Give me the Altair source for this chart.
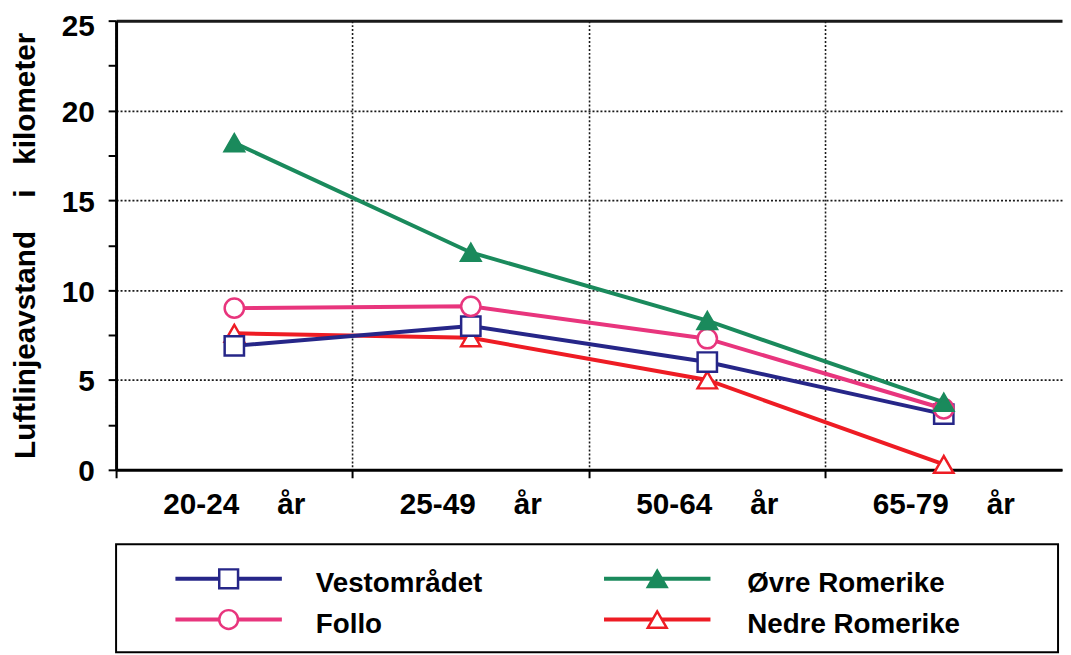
import altair as alt
import pandas as pd

FONT = "Liberation Sans"

ages = ["20-24", "25-49", "50-64", "65-79"]
age_unit = "år"
series = ["Vestområdet", "Follo", "Øvre Romerike", "Nedre Romerike"]
vest = [6.9, 8.0, 6.0, 3.1]
follo = [9.0, 9.1, 7.3, 3.4]
ovre = [18.2, 12.1, 8.3, 3.75]
nedre = [7.6, 7.35, 5.0, 0.3]
colors = ["#262688", "#e8357d", "#1a8a5c", "#ee1c24"]
shapes = ["square", "circle", "triangle-up", "triangle-up"]
fills = ["white", "white", "#1a8a5c", "white"]
draw_order = ["Nedre Romerike", "Vestområdet", "Follo", "Øvre Romerike"]
y_title = "Luftlinjeavstand\u00a0\u00a0\u00a0\u00a0i\u00a0\u00a0\u00a0kilometer"

values = {"Vestområdet": vest, "Follo": follo, "Øvre Romerike": ovre, "Nedre Romerike": nedre}
fill_of = dict(zip(series, fills))

rows = []
for s in series:
    for a, v in zip(ages, values[s]):
        rows.append({"series": s, "age": a, "value": v, "fill": fill_of[s]})
df = pd.DataFrame(rows)

color_scale = alt.Scale(domain=series, range=colors)
shape_scale = alt.Scale(domain=series, range=shapes)

SEP = "\u2002\u2002\u00a0"
x_enc = alt.X(
    "age:N", sort=ages,
    scale=alt.Scale(type="band", paddingInner=0, paddingOuter=0),
    axis=alt.Axis(
        title=None, bandPosition=0, grid=True, gridColor="#1a1a1a", gridDash=[2, 2],
        gridWidth=1.6, ticks=True, tickSize=8, tickWidth=2, tickColor="black",
        domainColor="black", domainWidth=3, labelFont=FONT, labelFontSize=30,
        labelFontWeight="bold", labelColor="black", labelPadding=12, labelAngle=0,
        labelExpr=f"datum.value + '{SEP}{age_unit}'",
    ),
)
y_enc = alt.Y(
    "value:Q",
    scale=alt.Scale(domain=[0, 25], nice=False),
    axis=alt.Axis(
        title=y_title, titleFont=FONT, titleFontSize=30, titleFontWeight="bold",
        titleColor="black", titlePadding=21,
        values=[0, 2.5, 5, 7.5, 10, 12.5, 15, 17.5, 20, 22.5, 25],
        labelExpr="datum.value % 5 == 0 ? datum.value : ''",
        labelFont=FONT, labelFontSize=30, labelFontWeight="bold", labelColor="black",
        labelPadding=14,
        labelOffset={"condition": {"test": "datum.value == 25", "value": 6}, "value": 2},
        grid=True, gridColor="#1a1a1a",
        gridOpacity={"condition": {"test": "datum.value % 5 != 0", "value": 0}, "value": 1},
        gridDash={"condition": {"test": "datum.value == 25", "value": []}, "value": [2, 2]},
        gridWidth={"condition": {"test": "datum.value == 25", "value": 3}, "value": 1.6},
        tickSize=8, tickWidth=2, tickColor="black", domainColor="black", domainWidth=3,
    ),
)

layers = []
base = alt.Chart(df)
for s in draw_order:
    sub = base.transform_filter(alt.datum.series == s)
    layers.append(
        sub.mark_line(strokeWidth=4).encode(
            x=x_enc, y=y_enc, color=alt.Color("series:N", scale=color_scale, legend=None)
        )
    )
    layers.append(
        sub.mark_point(filled=True, size=380, strokeWidth=2.5, opacity=1).encode(
            x=x_enc, y=y_enc,
            stroke=alt.Stroke("series:N", scale=color_scale, legend=None),
            fill=alt.Fill("fill:N", scale=None),
            shape=alt.Shape("series:N", scale=shape_scale, legend=None),
        )
    )

main = alt.layer(*layers).properties(
    width=954, height=453, view=alt.ViewBackground(stroke="transparent")
)

# custom legend box
leg_df = pd.DataFrame({"series": series, "fill": fills})
lx = alt.Scale(domain=[0, 100], nice=False)
ly = alt.Scale(domain=[0, 100], nice=False)
leg_base = alt.Chart(leg_df).transform_window(
    idx="row_number()"
).transform_calculate(
    col="floor((datum.idx - 1) / 2)",
    row="(datum.idx - 1) % 2",
).transform_calculate(
    lx1="6.3 + datum.col * 45.5",
    lx2="17.6 + datum.col * 45.5",
    mx="11.95 + datum.col * 45.5",
    tx="21.2 + datum.col * 45.8",
    ly="68 - datum.row * 37.7",
    ty="63 - datum.row * 37.7",
)
leg_rule = leg_base.mark_rule(strokeWidth=4).encode(
    x=alt.X("lx1:Q", scale=lx, axis=None),
    x2="lx2:Q",
    y=alt.Y("ly:Q", scale=ly, axis=None),
    color=alt.Color("series:N", scale=color_scale, legend=None),
)
leg_pt = leg_base.mark_point(filled=True, size=360, strokeWidth=2.5, opacity=1).encode(
    x=alt.X("mx:Q", scale=lx, axis=None),
    y=alt.Y("ly:Q", scale=ly, axis=None),
    stroke=alt.Stroke("series:N", scale=color_scale, legend=None),
    fill=alt.Fill("fill:N", scale=None),
    shape=alt.Shape("series:N", scale=shape_scale, legend=None),
)
leg_txt = leg_base.mark_text(
    align="left", baseline="middle", font=FONT, fontSize=28, fontWeight="bold", color="black"
).encode(
    x=alt.X("tx:Q", scale=lx, axis=None),
    y=alt.Y("ty:Q", scale=ly, axis=None),
    text="series:N",
)
legend = alt.layer(leg_rule, leg_pt, leg_txt).properties(
    width=950, height=109, view=alt.ViewBackground(stroke="black", strokeWidth=2)
)

chart = alt.vconcat(main, legend, spacing=75, bounds="flush").properties(
    padding={"left": 2, "top": 0, "right": 0, "bottom": 2}
).configure(font=FONT).configure_view(fill="white")

chart.save("out.html", embed_options={"renderer": "svg", "actions": False})
